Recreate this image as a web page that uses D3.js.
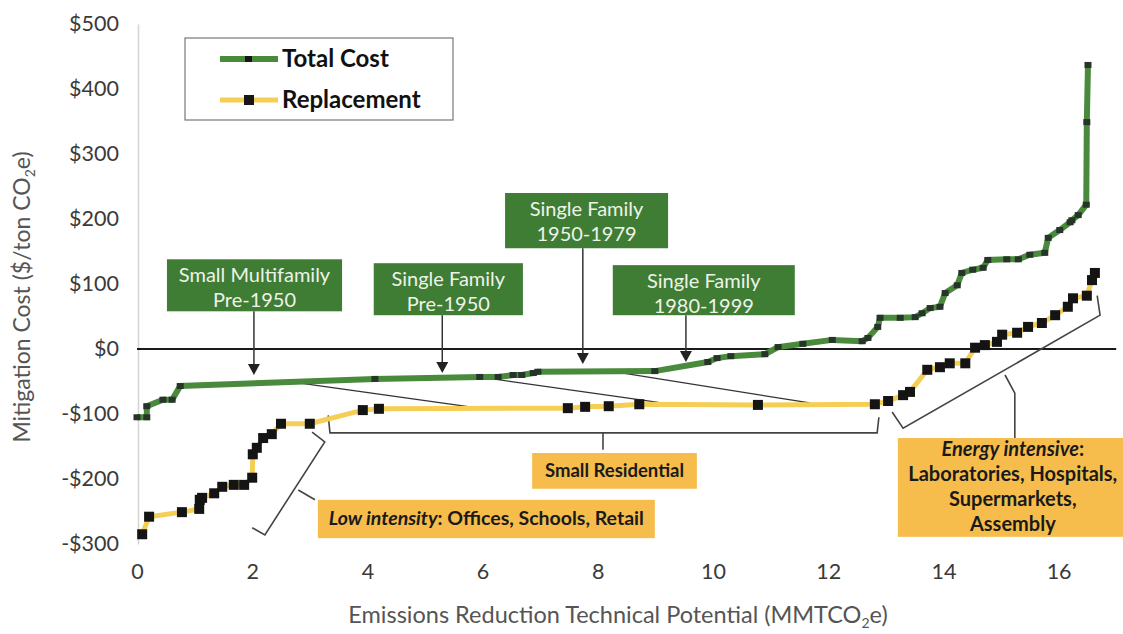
<!DOCTYPE html>
<html>
<head>
<meta charset="utf-8">
<script src="https://cdn.jsdelivr.net/npm/d3@7"></script>
<style>
  body { margin: 0; background: #fff; }
  svg { font-family: Lato, "Open Sans", sans-serif; }
</style>
</head>
<body>
<div id="chart"></div>
<script>
// data
const totalX = [0, 0.17, 0.17, 0.45, 0.61, 0.75, 4.13, 5.95, 6.27, 6.53, 6.68, 6.88, 6.96, 8.99, 9.91, 10.07, 10.31, 10.9, 11.13, 11.56, 12.07, 12.59, 12.69, 12.86, 12.9, 13.25, 13.51, 13.63, 13.77, 13.94, 14.03, 14.24, 14.32, 14.51, 14.69, 14.77, 15.1, 15.3, 15.5, 15.76, 15.82, 16.02, 16.2, 16.23, 16.34, 16.48, 16.49, 16.51];
const totalCost = [-105, -105, -88, -78, -78, -57, -46, -43, -43, -40, -40, -37, -35, -34, -20, -14, -11, -8, 3, 8, 14, 12, 17, 34, 48, 48, 49, 55, 63, 65, 86, 98, 117, 122, 125, 137, 138, 138, 145, 148, 171, 183, 195, 198, 206, 222, 349, 437];

const replX = [0.09, 0.21, 0.78, 1.08, 1.09, 1.13, 1.34, 1.48, 1.68, 1.86, 2.0, 2.01, 2.08, 2.19, 2.34, 2.5, 3.0, 3.92, 4.2, 7.48, 7.78, 8.19, 8.72, 10.78, 12.81, 13.04, 13.3, 13.42, 13.72, 13.94, 14.11, 14.38, 14.55, 14.72, 14.93, 15.02, 15.28, 15.47, 15.71, 15.94, 16.16, 16.25, 16.49, 16.58, 16.63];
const replacement = [-285, -258, -251, -246, -232, -229, -222, -212, -209, -209, -198, -162, -152, -137, -131, -115, -115, -94, -92, -91, -89, -88, -85, -86, -85, -80, -71, -66, -32, -28, -22, -22, 2, 6, 11, 22, 25, 34, 40, 52, 65, 78, 82, 106, 117];

const xTicks = [0, 2, 4, 6, 8, 10, 12, 14, 16];
const yTicks = [-300, -200, -100, 0, 100, 200, 300, 400, 500];
const seriesNames = ["Total Cost", "Replacement"];

// annotation text
const segmentLabels = [
  ["Small Multifamily", "Pre-1950"],
  ["Single Family", "Pre-1950"],
  ["Single Family", "1950-1979"],
  ["Single Family", "1980-1999"]
];

const width = 1123;
const height = 634;

const x = d3.scaleLinear().domain([0, 17]).range([137, 1116.2]);
const y = d3.scaleLinear().domain([-300, 500]).range([544, 24]);

const svg = d3
  .select("#chart")
  .append("svg")
  .attr("width", width)
  .attr("height", height);

const colGreen = "#4a8a3c";
const colYellow = "#f5cf55";
const colBoxGreen = "#3f7c34";
const colBoxOrange = "#f6bd4c";

// y axis
const yAxis = d3
  .axisLeft(y)
  .tickValues(yTicks)
  .tickSize(0)
  .tickPadding(19)
  .tickFormat((d) => (d < 0 ? "-$" + Math.abs(d) : "$" + d));

const yg = svg
  .append("g")
  .attr("transform", `translate(${x(0) + 1},0)`)
  .call(yAxis);
yg.select(".domain").attr("stroke", "#d4d4d4").attr("stroke-width", 1.5);
yg.selectAll("text")
  .attr("font-size", 21.5)
  .attr("fill", "#3a3a3a")
  .attr("font-family", "Lato");

// x axis
const xAxis = d3
  .axisBottom(x)
  .tickValues(xTicks)
  .tickSize(0)
  .tickPadding(20);

const xg = svg
  .append("g")
  .attr("transform", `translate(0,${y(-300)})`)
  .call(xAxis);
xg.select(".domain").remove();
xg.selectAll("text")
  .attr("font-size", 21.5)
  .attr("fill", "#3a3a3a")
  .attr("font-family", "Lato");

// zero line
svg
  .append("line")
  .attr("x1", x(0))
  .attr("x2", x(17))
  .attr("y1", y(0))
  .attr("y2", y(0))
  .attr("stroke", "#1a1a1a")
  .attr("stroke-width", 2);

// axis titles
const yTitle = svg
  .append("text")
  .attr("transform", `translate(30,297) rotate(-90)`)
  .attr("text-anchor", "middle")
  .attr("font-size", 23)
  .attr("fill", "#555");
yTitle.append("tspan").text("Mitigation Cost ($/ton CO");
yTitle.append("tspan").attr("font-size", 14).attr("dy", 5).text("2");
yTitle.append("tspan").attr("dy", -5).text("e)");

const xTitle = svg
  .append("text")
  .attr("x", 618)
  .attr("y", 623)
  .attr("text-anchor", "middle")
  .attr("font-size", 23.5)
  .attr("fill", "#555");
xTitle.append("tspan").text("Emissions Reduction Technical Potential (MMTCO");
xTitle.append("tspan").attr("font-size", 14).attr("dy", 5).text("2");
xTitle.append("tspan").attr("dy", -5).text("e)");

// thin connector lines between the green and yellow curves
const connectors = [
  [[2.71, -51], [5.78, -89]],
  [[6.09, -45], [9.05, -82]],
  [[8.44, -37], [11.68, -83]]
];
const pathLine = d3
  .line()
  .x((d) => x(d[0]))
  .y((d) => y(d[1]));

svg
  .append("g")
  .selectAll("path")
  .data(connectors)
  .enter()
  .append("path")
  .attr("d", pathLine)
  .attr("fill", "none")
  .attr("stroke", "#333")
  .attr("stroke-width", 1.2);

// brackets
const brackets = [
  // small residential
  [[3.32, -102], [3.35, -129], [8.09, -129], [8.09, -155], [8.09, -129], [12.85, -129], [12.88, -105]],
  // low intensity
  [[3.04, -128], [3.26, -143], [2.22, -286], [2.0, -275]],
  [[2.8, -217], [3.09, -232]],
  // energy intensive
  [[13.11, -97], [13.3, -122], [16.72, 52], [16.67, 82]],
  [[15.07, -40], [15.24, -68], [15.24, -137]]
];
svg
  .append("g")
  .selectAll("path")
  .data(brackets)
  .enter()
  .append("path")
  .attr("d", pathLine)
  .attr("fill", "none")
  .attr("stroke", "#444")
  .attr("stroke-width", 1.6);

// series lines
const replData = replX.map((v, i) => [v, replacement[i]]);
const totalData = totalX.map((v, i) => [v, totalCost[i]]);

svg
  .append("path")
  .datum(replData)
  .attr("d", pathLine)
  .attr("fill", "none")
  .attr("stroke", colYellow)
  .attr("stroke-width", 5);

svg
  .append("g")
  .selectAll("rect")
  .data(replData)
  .enter()
  .append("rect")
  .attr("x", (d) => x(d[0]) - 5)
  .attr("y", (d) => y(d[1]) - 5)
  .attr("width", 10)
  .attr("height", 10)
  .attr("fill", "#141414");

svg
  .append("path")
  .datum(totalData)
  .attr("d", pathLine)
  .attr("fill", "none")
  .attr("stroke", colGreen)
  .attr("stroke-width", 6);

svg
  .append("g")
  .selectAll("rect")
  .data(totalData)
  .enter()
  .append("rect")
  .attr("x", (d) => x(d[0]) - 3.5)
  .attr("y", (d) => y(d[1]) - 3)
  .attr("width", 7)
  .attr("height", 6)
  .attr("fill", "#26342a");

// green callouts with arrows
const callouts = [
  { box: [0.52, 3.56, 138, 58], tip: [2.03, -40] },
  { box: [4.11, 6.7, 132, 52], tip: [5.3, -37] },
  { box: [6.39, 9.22, 240, 155], tip: [7.74, -23] },
  { box: [8.26, 11.42, 129, 52], tip: [9.53, -20] }
];

const calloutG = svg
  .append("g")
  .selectAll("g")
  .data(callouts)
  .enter()
  .append("g");

calloutG
  .append("line")
  .attr("x1", (d) => x(d.tip[0]))
  .attr("x2", (d) => x(d.tip[0]))
  .attr("y1", (d) => y(d.box[3]))
  .attr("y2", (d) => y(d.tip[1]) - 8)
  .attr("stroke", "#333")
  .attr("stroke-width", 1.5);

calloutG
  .append("path")
  .attr("d", (d) => {
    const tx = x(d.tip[0]);
    const ty = y(d.tip[1]);
    return `M${tx - 6},${ty - 11}L${tx + 6},${ty - 11}L${tx},${ty}Z`;
  })
  .attr("fill", "#222");

calloutG
  .append("rect")
  .attr("x", (d) => x(d.box[0]))
  .attr("y", (d) => y(d.box[2]))
  .attr("width", (d) => x(d.box[1]) - x(d.box[0]))
  .attr("height", (d) => y(d.box[3]) - y(d.box[2]))
  .attr("fill", colBoxGreen);

calloutG
  .append("text")
  .attr("text-anchor", "middle")
  .attr("font-size", 20)
  .attr("fill", "#eef3ea")
  .each(function (d, i) {
    const cx = (x(d.box[0]) + x(d.box[1])) / 2;
    const top = y(d.box[2]);
    const t = d3.select(this);
    segmentLabels[i].forEach((s, j) => {
      t.append("tspan")
        .attr("x", cx)
        .attr("y", top + 23 + j * 25)
        .text(s);
    });
  });

// orange category boxes
const orangeBoxes = [
  { box: [6.86, 9.72, -160, -215], size: 18.5, lines: [[["Small Residential", false]]] },
  {
    box: [3.14, 8.99, -232, -291],
    size: 19.5,
    lines: [[["Low intensity", true], [": Offices, Schools, Retail", false]]]
  },
  {
    box: [13.21, 17.2, -137, -289],
    size: 20,
    lines: [
      [["Energy intensive", true], [":", false]],
      [["Laboratories, Hospitals,", false]],
      [["Supermarkets,", false]],
      [["Assembly", false]]
    ]
  }
];

const orangeG = svg
  .append("g")
  .selectAll("g")
  .data(orangeBoxes)
  .enter()
  .append("g");

orangeG
  .append("rect")
  .attr("x", (d) => x(d.box[0]))
  .attr("y", (d) => y(d.box[2]))
  .attr("width", (d) => x(d.box[1]) - x(d.box[0]))
  .attr("height", (d) => y(d.box[3]) - y(d.box[2]))
  .attr("fill", colBoxOrange);

orangeG.each(function (d) {
  const cx = (x(d.box[0]) + x(d.box[1])) / 2;
  const top = y(d.box[2]);
  const bot = y(d.box[3]);
  const n = d.lines.length;
  const lh = 25;
  const start = (top + bot) / 2 - ((n - 1) * lh) / 2 + 6;
  const g = d3.select(this);
  d.lines.forEach((parts, j) => {
    const t = g
      .append("text")
      .attr("x", cx)
      .attr("y", start + j * lh)
      .attr("text-anchor", "middle")
      .attr("font-size", d.size)
      .attr("font-weight", "bold")
      .attr("fill", "#1a1a1a");
    parts.forEach((p) => {
      t.append("tspan")
        .attr("font-style", p[1] ? "italic" : "normal")
        .text(p[0]);
    });
  });
});

// legend
const legend = svg.append("g");
legend
  .append("rect")
  .attr("x", 185)
  .attr("y", 38)
  .attr("width", 268)
  .attr("height", 82)
  .attr("fill", "#fff")
  .attr("stroke", "#777")
  .attr("stroke-width", 1.2);

const legendRows = legend
  .selectAll("g")
  .data(seriesNames)
  .enter()
  .append("g")
  .attr("transform", (d, i) => `translate(0,${59 + i * 41})`);

legendRows
  .append("line")
  .attr("x1", 220)
  .attr("x2", 278)
  .attr("stroke", (d, i) => (i === 0 ? colGreen : colYellow))
  .attr("stroke-width", (d, i) => (i === 0 ? 6 : 5));

legendRows
  .append("rect")
  .attr("x", (d, i) => (i === 0 ? 245 : 244))
  .attr("y", (d, i) => (i === 0 ? -3 : -5))
  .attr("width", (d, i) => (i === 0 ? 7 : 10))
  .attr("height", (d, i) => (i === 0 ? 6 : 10))
  .attr("fill", "#161616");

legendRows
  .append("text")
  .attr("x", 282)
  .attr("y", 8)
  .attr("font-size", 24)
  .attr("font-weight", "bold")
  .attr("fill", "#111")
  .text((d) => d);
</script>
</body>
</html>
